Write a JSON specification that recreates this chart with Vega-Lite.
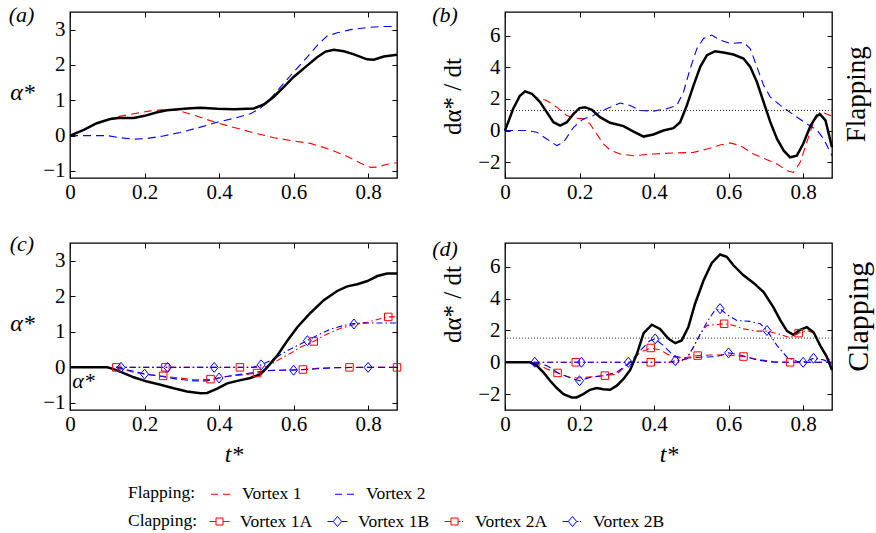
{
"$schema": "https://vega.github.io/schema/vega-lite/v6.json",
"padding": {"left": 8, "top": 3, "right": 5, "bottom": 5},
"config": {
  "font": "Liberation Serif",
  "view": {"stroke": "black", "strokeWidth": 1.3},
  "axis": {"domain": false, "grid": false, "ticks": true, "tickSize": -5, "tickColor": "black", "tickWidth": 1, "labelFont": "Liberation Serif", "labelFontSize": 21, "labelColor": "black", "labelFlush": false, "labelOverlap": false, "labelBound": false, "format": "~g", "titleFont": "Liberation Serif", "titleFontSize": 24, "titleFontWeight": "normal", "titleColor": "black"},
  "axisX": {"labelPadding": 8},
  "axisY": {"labelPadding": 10},
  "legend": {"titleFont": "Liberation Serif", "titleFontSize": 17.5, "titleFontWeight": "normal", "titleColor": "black", "labelFont": "Liberation Serif", "labelFontSize": 17.5, "labelColor": "black"}
},
"datasets": {
  "a_tot": [{"t":0,"v":0},{"t":0.037,"v":0.16},{"t":0.072,"v":0.35},{"t":0.108,"v":0.47},{"t":0.13,"v":0.5},{"t":0.171,"v":0.5},{"t":0.2,"v":0.56},{"t":0.234,"v":0.66},{"t":0.26,"v":0.72},{"t":0.314,"v":0.77},{"t":0.35,"v":0.79},{"t":0.395,"v":0.76},{"t":0.44,"v":0.75},{"t":0.493,"v":0.77},{"t":0.52,"v":0.88},{"t":0.547,"v":1.1},{"t":0.574,"v":1.38},{"t":0.6,"v":1.66},{"t":0.637,"v":1.99},{"t":0.663,"v":2.22},{"t":0.686,"v":2.38},{"t":0.708,"v":2.43},{"t":0.735,"v":2.39},{"t":0.762,"v":2.3},{"t":0.797,"v":2.16},{"t":0.815,"v":2.15},{"t":0.842,"v":2.24},{"t":0.8775,"v":2.29}],
  "a_v": [
    {"s":"Vortex 1","t":0,"v":0},{"s":"Vortex 1","t":0.037,"v":0.16},{"s":"Vortex 1","t":0.072,"v":0.35},{"s":"Vortex 1","t":0.108,"v":0.48},{"s":"Vortex 1","t":0.126,"v":0.53},{"s":"Vortex 1","t":0.171,"v":0.62},{"s":"Vortex 1","t":0.216,"v":0.7},{"s":"Vortex 1","t":0.26,"v":0.74},{"s":"Vortex 1","t":0.287,"v":0.72},{"s":"Vortex 1","t":0.332,"v":0.58},{"s":"Vortex 1","t":0.386,"v":0.39},{"s":"Vortex 1","t":0.44,"v":0.23},{"s":"Vortex 1","t":0.493,"v":0.08},{"s":"Vortex 1","t":0.547,"v":-0.06},{"s":"Vortex 1","t":0.6,"v":-0.15},{"s":"Vortex 1","t":0.645,"v":-0.22},{"s":"Vortex 1","t":0.7,"v":-0.4},{"s":"Vortex 1","t":0.744,"v":-0.59},{"s":"Vortex 1","t":0.78,"v":-0.78},{"s":"Vortex 1","t":0.807,"v":-0.9},{"s":"Vortex 1","t":0.825,"v":-0.89},{"s":"Vortex 1","t":0.851,"v":-0.81},{"s":"Vortex 1","t":0.8775,"v":-0.77},
    {"s":"Vortex 2","t":0,"v":0},{"s":"Vortex 2","t":0.1,"v":0},{"s":"Vortex 2","t":0.135,"v":-0.06},{"s":"Vortex 2","t":0.171,"v":-0.1},{"s":"Vortex 2","t":0.207,"v":-0.08},{"s":"Vortex 2","t":0.25,"v":-0.01},{"s":"Vortex 2","t":0.296,"v":0.09},{"s":"Vortex 2","t":0.35,"v":0.24},{"s":"Vortex 2","t":0.395,"v":0.38},{"s":"Vortex 2","t":0.44,"v":0.49},{"s":"Vortex 2","t":0.484,"v":0.62},{"s":"Vortex 2","t":0.511,"v":0.77},{"s":"Vortex 2","t":0.538,"v":1.05},{"s":"Vortex 2","t":0.565,"v":1.38},{"s":"Vortex 2","t":0.6,"v":1.8},{"s":"Vortex 2","t":0.637,"v":2.23},{"s":"Vortex 2","t":0.663,"v":2.55},{"s":"Vortex 2","t":0.69,"v":2.82},{"s":"Vortex 2","t":0.717,"v":2.91},{"s":"Vortex 2","t":0.753,"v":3.0},{"s":"Vortex 2","t":0.797,"v":3.06},{"s":"Vortex 2","t":0.842,"v":3.09},{"s":"Vortex 2","t":0.8775,"v":3.09}],
  "b_tot": [{"t":0,"v":0},{"t":0.022,"v":1.38},{"t":0.04,"v":2.2},{"t":0.054,"v":2.48},{"t":0.072,"v":2.33},{"t":0.094,"v":1.8},{"t":0.112,"v":1.17},{"t":0.13,"v":0.53},{"t":0.148,"v":0.32},{"t":0.166,"v":0.53},{"t":0.184,"v":1.06},{"t":0.2,"v":1.42},{"t":0.215,"v":1.48},{"t":0.233,"v":1.31},{"t":0.255,"v":0.85},{"t":0.282,"v":0.49},{"t":0.318,"v":0.28},{"t":0.345,"v":-0.06},{"t":0.372,"v":-0.38},{"t":0.398,"v":-0.25},{"t":0.425,"v":0},{"t":0.452,"v":0.15},{"t":0.47,"v":0.53},{"t":0.488,"v":1.59},{"t":0.506,"v":2.86},{"t":0.524,"v":4.03},{"t":0.542,"v":4.77},{"t":0.564,"v":5.02},{"t":0.586,"v":4.94},{"t":0.613,"v":4.81},{"t":0.64,"v":4.56},{"t":0.658,"v":4.03},{"t":0.676,"v":3.07},{"t":0.694,"v":1.8},{"t":0.712,"v":0.53},{"t":0.73,"v":-0.53},{"t":0.748,"v":-1.27},{"t":0.765,"v":-1.69},{"t":0.783,"v":-1.59},{"t":0.8,"v":-0.85},{"t":0.82,"v":0.32},{"t":0.837,"v":0.95},{"t":0.846,"v":1.02},{"t":0.86,"v":0.64},{"t":0.8775,"v":-1.06}],
  "b_v": [
    {"s":"Vortex 1","t":0,"v":0},{"s":"Vortex 1","t":0.022,"v":1.38},{"s":"Vortex 1","t":0.04,"v":2.2},{"s":"Vortex 1","t":0.054,"v":2.48},{"s":"Vortex 1","t":0.072,"v":2.33},{"s":"Vortex 1","t":0.085,"v":2.08},{"s":"Vortex 1","t":0.112,"v":1.9},{"s":"Vortex 1","t":0.139,"v":1.48},{"s":"Vortex 1","t":0.166,"v":0.95},{"s":"Vortex 1","t":0.184,"v":0.8},{"s":"Vortex 1","t":0.21,"v":0.74},{"s":"Vortex 1","t":0.228,"v":0.42},{"s":"Vortex 1","t":0.246,"v":-0.21},{"s":"Vortex 1","t":0.264,"v":-0.85},{"s":"Vortex 1","t":0.282,"v":-1.23},{"s":"Vortex 1","t":0.309,"v":-1.48},{"s":"Vortex 1","t":0.345,"v":-1.59},{"s":"Vortex 1","t":0.398,"v":-1.48},{"s":"Vortex 1","t":0.452,"v":-1.42},{"s":"Vortex 1","t":0.506,"v":-1.38},{"s":"Vortex 1","t":0.542,"v":-1.17},{"s":"Vortex 1","t":0.577,"v":-0.91},{"s":"Vortex 1","t":0.604,"v":-0.78},{"s":"Vortex 1","t":0.631,"v":-0.95},{"s":"Vortex 1","t":0.667,"v":-1.48},{"s":"Vortex 1","t":0.703,"v":-1.84},{"s":"Vortex 1","t":0.73,"v":-2.12},{"s":"Vortex 1","t":0.757,"v":-2.54},{"s":"Vortex 1","t":0.774,"v":-2.65},{"s":"Vortex 1","t":0.792,"v":-2.01},{"s":"Vortex 1","t":0.81,"v":-0.74},{"s":"Vortex 1","t":0.828,"v":0.53},{"s":"Vortex 1","t":0.846,"v":1.21},{"s":"Vortex 1","t":0.8775,"v":0.91},
    {"s":"Vortex 2","t":0,"v":0},{"s":"Vortex 2","t":0.058,"v":0},{"s":"Vortex 2","t":0.085,"v":-0.1},{"s":"Vortex 2","t":0.112,"v":-0.53},{"s":"Vortex 2","t":0.139,"v":-0.95},{"s":"Vortex 2","t":0.157,"v":-0.74},{"s":"Vortex 2","t":0.184,"v":0.21},{"s":"Vortex 2","t":0.21,"v":0.74},{"s":"Vortex 2","t":0.237,"v":0.95},{"s":"Vortex 2","t":0.273,"v":1.38},{"s":"Vortex 2","t":0.309,"v":1.74},{"s":"Vortex 2","t":0.336,"v":1.59},{"s":"Vortex 2","t":0.363,"v":1.27},{"s":"Vortex 2","t":0.398,"v":1.23},{"s":"Vortex 2","t":0.434,"v":1.38},{"s":"Vortex 2","t":0.461,"v":1.59},{"s":"Vortex 2","t":0.479,"v":2.44},{"s":"Vortex 2","t":0.497,"v":3.92},{"s":"Vortex 2","t":0.515,"v":5.19},{"s":"Vortex 2","t":0.533,"v":5.83},{"s":"Vortex 2","t":0.555,"v":6.04},{"s":"Vortex 2","t":0.577,"v":5.72},{"s":"Vortex 2","t":0.604,"v":5.51},{"s":"Vortex 2","t":0.64,"v":5.57},{"s":"Vortex 2","t":0.658,"v":5.19},{"s":"Vortex 2","t":0.676,"v":4.03},{"s":"Vortex 2","t":0.694,"v":2.86},{"s":"Vortex 2","t":0.712,"v":2.12},{"s":"Vortex 2","t":0.739,"v":1.59},{"s":"Vortex 2","t":0.774,"v":1.0},{"s":"Vortex 2","t":0.81,"v":0.42},{"s":"Vortex 2","t":0.837,"v":0.04},{"s":"Vortex 2","t":0.855,"v":-0.53},{"s":"Vortex 2","t":0.8775,"v":-1.59}],
  "c_tot": [{"t":0,"v":0},{"t":0.1,"v":0},{"t":0.117,"v":-0.05},{"t":0.144,"v":-0.16},{"t":0.171,"v":-0.28},{"t":0.207,"v":-0.4},{"t":0.243,"v":-0.49},{"t":0.278,"v":-0.59},{"t":0.314,"v":-0.68},{"t":0.35,"v":-0.73},{"t":0.368,"v":-0.72},{"t":0.395,"v":-0.6},{"t":0.422,"v":-0.45},{"t":0.449,"v":-0.38},{"t":0.484,"v":-0.3},{"t":0.511,"v":-0.19},{"t":0.529,"v":0},{"t":0.556,"v":0.33},{"t":0.583,"v":0.75},{"t":0.61,"v":1.13},{"t":0.645,"v":1.53},{"t":0.681,"v":1.89},{"t":0.717,"v":2.15},{"t":0.744,"v":2.28},{"t":0.771,"v":2.34},{"t":0.798,"v":2.43},{"t":0.825,"v":2.57},{"t":0.851,"v":2.64},{"t":0.8775,"v":2.64}],
  "c_v": [
    {"s":"Vortex 1A","t":0.124,"v":0},{"s":"Vortex 1A","t":0.171,"v":-0.14},{"s":"Vortex 1A","t":0.216,"v":-0.21},{"s":"Vortex 1A","t":0.252,"v":-0.25},{"s":"Vortex 1A","t":0.296,"v":-0.3},{"s":"Vortex 1A","t":0.332,"v":-0.35},{"s":"Vortex 1A","t":0.377,"v":-0.34},{"s":"Vortex 1A","t":0.422,"v":-0.25},{"s":"Vortex 1A","t":0.466,"v":-0.21},{"s":"Vortex 1A","t":0.502,"v":-0.16},{"s":"Vortex 1A","t":0.538,"v":-0.09},{"s":"Vortex 1A","t":0.583,"v":-0.07},{"s":"Vortex 1A","t":0.625,"v":-0.06},{"s":"Vortex 1A","t":0.672,"v":-0.02},{"s":"Vortex 1A","t":0.75,"v":0},{"s":"Vortex 1A","t":0.8775,"v":0},
    {"s":"Vortex 1B","t":0.124,"v":0},{"s":"Vortex 1B","t":0.171,"v":-0.11},{"s":"Vortex 1B","t":0.2,"v":-0.19},{"s":"Vortex 1B","t":0.243,"v":-0.25},{"s":"Vortex 1B","t":0.287,"v":-0.33},{"s":"Vortex 1B","t":0.332,"v":-0.38},{"s":"Vortex 1B","t":0.368,"v":-0.38},{"s":"Vortex 1B","t":0.4,"v":-0.3},{"s":"Vortex 1B","t":0.44,"v":-0.22},{"s":"Vortex 1B","t":0.484,"v":-0.16},{"s":"Vortex 1B","t":0.529,"v":-0.09},{"s":"Vortex 1B","t":0.574,"v":-0.08},{"s":"Vortex 1B","t":0.6,"v":-0.08},{"s":"Vortex 1B","t":0.663,"v":-0.04},{"s":"Vortex 1B","t":0.708,"v":-0.01},{"s":"Vortex 1B","t":0.8,"v":0},{"s":"Vortex 1B","t":0.8775,"v":0},
    {"s":"Vortex 2A","t":0.124,"v":0},{"s":"Vortex 2A","t":0.5,"v":0},{"s":"Vortex 2A","t":0.529,"v":0.02},{"s":"Vortex 2A","t":0.556,"v":0.19},{"s":"Vortex 2A","t":0.592,"v":0.4},{"s":"Vortex 2A","t":0.619,"v":0.57},{"s":"Vortex 2A","t":0.654,"v":0.73},{"s":"Vortex 2A","t":0.69,"v":0.94},{"s":"Vortex 2A","t":0.726,"v":1.1},{"s":"Vortex 2A","t":0.762,"v":1.2},{"s":"Vortex 2A","t":0.798,"v":1.27},{"s":"Vortex 2A","t":0.833,"v":1.37},{"s":"Vortex 2A","t":0.854,"v":1.42},{"s":"Vortex 2A","t":0.8775,"v":1.42},
    {"s":"Vortex 2B","t":0.124,"v":0},{"s":"Vortex 2B","t":0.49,"v":0},{"s":"Vortex 2B","t":0.513,"v":0.07},{"s":"Vortex 2B","t":0.547,"v":0.24},{"s":"Vortex 2B","t":0.583,"v":0.47},{"s":"Vortex 2B","t":0.619,"v":0.66},{"s":"Vortex 2B","t":0.635,"v":0.75},{"s":"Vortex 2B","t":0.663,"v":0.9},{"s":"Vortex 2B","t":0.7,"v":1.08},{"s":"Vortex 2B","t":0.735,"v":1.18},{"s":"Vortex 2B","t":0.76,"v":1.23},{"s":"Vortex 2B","t":0.798,"v":1.25},{"s":"Vortex 2B","t":0.842,"v":1.25},{"s":"Vortex 2B","t":0.8775,"v":1.25}],
  "c_m": [
    {"s":"Vortex 1A","t":0.124,"v":0},{"s":"Vortex 1A","t":0.25,"v":-0.24},{"s":"Vortex 1A","t":0.377,"v":-0.33},{"s":"Vortex 1A","t":0.502,"v":-0.16},{"s":"Vortex 1A","t":0.625,"v":-0.06},{"s":"Vortex 1A","t":0.75,"v":0},{"s":"Vortex 1A","t":0.8775,"v":0},
    {"s":"Vortex 1B","t":0.2,"v":-0.19},{"s":"Vortex 1B","t":0.4,"v":-0.3},{"s":"Vortex 1B","t":0.6,"v":-0.08},{"s":"Vortex 1B","t":0.8,"v":0},
    {"s":"Vortex 2A","t":0.256,"v":0},{"s":"Vortex 2A","t":0.456,"v":0},{"s":"Vortex 2A","t":0.654,"v":0.73},{"s":"Vortex 2A","t":0.854,"v":1.42},
    {"s":"Vortex 2B","t":0.137,"v":0},{"s":"Vortex 2B","t":0.262,"v":0},{"s":"Vortex 2B","t":0.387,"v":0},{"s":"Vortex 2B","t":0.513,"v":0.07},{"s":"Vortex 2B","t":0.637,"v":0.75},{"s":"Vortex 2B","t":0.762,"v":1.22}],
  "d_tot": [{"t":0,"v":0},{"t":0.067,"v":0},{"t":0.085,"v":-0.21},{"t":0.103,"v":-0.63},{"t":0.121,"v":-1.16},{"t":0.139,"v":-1.62},{"t":0.157,"v":-2.0},{"t":0.179,"v":-2.21},{"t":0.192,"v":-2.21},{"t":0.21,"v":-2.0},{"t":0.228,"v":-1.73},{"t":0.246,"v":-1.62},{"t":0.264,"v":-1.7},{"t":0.282,"v":-1.73},{"t":0.3,"v":-1.47},{"t":0.318,"v":-1.05},{"t":0.336,"v":-0.48},{"t":0.354,"v":0.53},{"t":0.372,"v":1.83},{"t":0.394,"v":2.36},{"t":0.416,"v":2.1},{"t":0.439,"v":1.47},{"t":0.457,"v":1.2},{"t":0.474,"v":1.37},{"t":0.492,"v":2.21},{"t":0.51,"v":3.68},{"t":0.533,"v":5.16},{"t":0.555,"v":6.25},{"t":0.577,"v":6.78},{"t":0.595,"v":6.63},{"t":0.613,"v":6.1},{"t":0.64,"v":5.47},{"t":0.667,"v":4.99},{"t":0.694,"v":4.42},{"t":0.72,"v":3.47},{"t":0.739,"v":2.63},{"t":0.757,"v":1.96},{"t":0.774,"v":1.73},{"t":0.792,"v":2.04},{"t":0.81,"v":2.21},{"t":0.828,"v":1.89},{"t":0.846,"v":1.05},{"t":0.864,"v":0.32},{"t":0.8775,"v":-0.48}],
  "d_v": [
    {"s":"Vortex 1A","t":0.077,"v":0},{"s":"Vortex 1A","t":0.112,"v":-0.42},{"s":"Vortex 1A","t":0.141,"v":-0.67},{"s":"Vortex 1A","t":0.175,"v":-0.95},{"s":"Vortex 1A","t":0.2,"v":-0.99},{"s":"Vortex 1A","t":0.237,"v":-0.9},{"s":"Vortex 1A","t":0.268,"v":-0.84},{"s":"Vortex 1A","t":0.3,"v":-0.74},{"s":"Vortex 1A","t":0.331,"v":-0.1},{"s":"Vortex 1A","t":0.363,"v":0.63},{"s":"Vortex 1A","t":0.391,"v":0.9},{"s":"Vortex 1A","t":0.416,"v":0.78},{"s":"Vortex 1A","t":0.443,"v":0.42},{"s":"Vortex 1A","t":0.47,"v":0.25},{"s":"Vortex 1A","t":0.517,"v":0.42},{"s":"Vortex 1A","t":0.55,"v":0.46},{"s":"Vortex 1A","t":0.595,"v":0.46},{"s":"Vortex 1A","t":0.64,"v":0.36},{"s":"Vortex 1A","t":0.685,"v":0.15},{"s":"Vortex 1A","t":0.72,"v":0.04},{"s":"Vortex 1A","t":0.765,"v":0},{"s":"Vortex 1A","t":0.8775,"v":0},
    {"s":"Vortex 1B","t":0.077,"v":0},{"s":"Vortex 1B","t":0.112,"v":-0.21},{"s":"Vortex 1B","t":0.148,"v":-0.74},{"s":"Vortex 1B","t":0.184,"v":-1.05},{"s":"Vortex 1B","t":0.2,"v":-1.16},{"s":"Vortex 1B","t":0.228,"v":-0.95},{"s":"Vortex 1B","t":0.264,"v":-0.84},{"s":"Vortex 1B","t":0.3,"v":-0.63},{"s":"Vortex 1B","t":0.336,"v":0},{"s":"Vortex 1B","t":0.363,"v":0.74},{"s":"Vortex 1B","t":0.389,"v":1.37},{"s":"Vortex 1B","t":0.403,"v":1.47},{"s":"Vortex 1B","t":0.425,"v":1.05},{"s":"Vortex 1B","t":0.452,"v":0.42},{"s":"Vortex 1B","t":0.479,"v":0.25},{"s":"Vortex 1B","t":0.524,"v":0.32},{"s":"Vortex 1B","t":0.568,"v":0.36},{"s":"Vortex 1B","t":0.6,"v":0.59},{"s":"Vortex 1B","t":0.631,"v":0.46},{"s":"Vortex 1B","t":0.676,"v":0.15},{"s":"Vortex 1B","t":0.72,"v":0},{"s":"Vortex 1B","t":0.8775,"v":0},
    {"s":"Vortex 2A","t":0.077,"v":0},{"s":"Vortex 2A","t":0.47,"v":0},{"s":"Vortex 2A","t":0.488,"v":0.32},{"s":"Vortex 2A","t":0.506,"v":0.95},{"s":"Vortex 2A","t":0.524,"v":1.79},{"s":"Vortex 2A","t":0.542,"v":2.32},{"s":"Vortex 2A","t":0.588,"v":2.42},{"s":"Vortex 2A","t":0.613,"v":2.32},{"s":"Vortex 2A","t":0.64,"v":2.1},{"s":"Vortex 2A","t":0.676,"v":1.96},{"s":"Vortex 2A","t":0.703,"v":1.96},{"s":"Vortex 2A","t":0.739,"v":1.75},{"s":"Vortex 2A","t":0.765,"v":1.54},{"s":"Vortex 2A","t":0.788,"v":1.83},{"s":"Vortex 2A","t":0.81,"v":2.0},{"s":"Vortex 2A","t":0.828,"v":1.83},{"s":"Vortex 2A","t":0.85,"v":0.95},{"s":"Vortex 2A","t":0.8775,"v":-0.1},
    {"s":"Vortex 2B","t":0.077,"v":0},{"s":"Vortex 2B","t":0.44,"v":0},{"s":"Vortex 2B","t":0.457,"v":0.1},{"s":"Vortex 2B","t":0.488,"v":0.21},{"s":"Vortex 2B","t":0.515,"v":1.37},{"s":"Vortex 2B","t":0.542,"v":2.53},{"s":"Vortex 2B","t":0.56,"v":3.16},{"s":"Vortex 2B","t":0.577,"v":3.37},{"s":"Vortex 2B","t":0.595,"v":3.01},{"s":"Vortex 2B","t":0.622,"v":2.63},{"s":"Vortex 2B","t":0.658,"v":2.57},{"s":"Vortex 2B","t":0.685,"v":2.42},{"s":"Vortex 2B","t":0.703,"v":2.0},{"s":"Vortex 2B","t":0.73,"v":1.05},{"s":"Vortex 2B","t":0.757,"v":0.32},{"s":"Vortex 2B","t":0.783,"v":0.06},{"s":"Vortex 2B","t":0.8,"v":0},{"s":"Vortex 2B","t":0.828,"v":0.25},{"s":"Vortex 2B","t":0.855,"v":0.15},{"s":"Vortex 2B","t":0.8775,"v":-0.1}],
  "d_m": [
    {"s":"Vortex 1A","t":0.141,"v":-0.67},{"s":"Vortex 1A","t":0.268,"v":-0.84},{"s":"Vortex 1A","t":0.391,"v":0.9},{"s":"Vortex 1A","t":0.517,"v":0.42},{"s":"Vortex 1A","t":0.64,"v":0.36},{"s":"Vortex 1A","t":0.765,"v":0},
    {"s":"Vortex 1B","t":0.2,"v":-1.16},{"s":"Vortex 1B","t":0.403,"v":1.47},{"s":"Vortex 1B","t":0.6,"v":0.59},{"s":"Vortex 1B","t":0.8,"v":0},
    {"s":"Vortex 2A","t":0.19,"v":0},{"s":"Vortex 2A","t":0.391,"v":0},{"s":"Vortex 2A","t":0.588,"v":2.42},{"s":"Vortex 2A","t":0.788,"v":1.83},
    {"s":"Vortex 2B","t":0.08,"v":0},{"s":"Vortex 2B","t":0.205,"v":0},{"s":"Vortex 2B","t":0.331,"v":0},{"s":"Vortex 2B","t":0.457,"v":0.1},{"s":"Vortex 2B","t":0.577,"v":3.37},{"s":"Vortex 2B","t":0.703,"v":2.0},{"s":"Vortex 2B","t":0.828,"v":0.25}]
},
"bounds": "flush",
"columns": 2,
"spacing": {"row": 65, "column": 108},
"concat": [
  {"width": 327, "height": 166,
   "resolve": {"axis": {"x": "independent", "y": "independent"}},
   "layer": [
    {"data": {"name": "a_v"}, "mark": {"type": "line", "strokeDash": [8, 5], "strokeWidth": 1.1},
     "encoding": {
      "x": {"field": "t", "type": "quantitative", "scale": {"domain": [0, 0.8775], "nice": false, "zero": false}, "axis": {"orient": "bottom", "values": [0, 0.2, 0.4, 0.6, 0.8], "title": null}},
      "y": {"field": "v", "type": "quantitative", "scale": {"domain": [-1.2, 3.5], "nice": false, "zero": false}, "axis": {"orient": "left", "values": [-1, 0, 1, 2, 3], "title": "α*", "titleAngle": 0, "titleFontStyle": "italic", "titleX": -48, "titleY": 80, "titleAlign": "center", "titleBaseline": "middle"}},
      "stroke": {"field": "s", "type": "nominal", "scale": {"domain": ["Vortex 1", "Vortex 2"], "range": ["#ff0000", "#0000ff"]},
        "legend": {"title": "Flapping:", "orient": "none", "legendX": 58, "legendY": 471, "direction": "horizontal", "columns": 2, "titleOrient": "left", "titlePadding": 14, "labelOffset": 10, "columnPadding": 30, "symbolType": "stroke", "symbolDash": [7, 5], "symbolSize": 400, "symbolStrokeWidth": 1.2}}
     }},
    {"data": {"name": "a_tot"}, "mark": {"type": "line", "color": "black", "strokeWidth": 2.5},
     "encoding": {
      "x": {"field": "t", "type": "quantitative", "axis": {"orient": "top", "values": [0, 0.2, 0.4, 0.6, 0.8], "labels": false, "title": null}},
      "y": {"field": "v", "type": "quantitative", "axis": {"orient": "right", "values": [-1, 0, 1, 2, 3], "labels": false, "title": null}}
     }},
    {"data": {"values": [{"label": "(a)"}]}, "mark": {"type": "text", "fontSize": 22, "fontStyle": "italic", "color": "black"},
     "encoding": {"x": {"datum": -0.13, "axis": null}, "y": {"datum": 3.41, "axis": null}, "text": {"field": "label"}}}
   ]},
  {"width": 327, "height": 166,
   "resolve": {"axis": {"x": "independent", "y": "independent"}},
   "layer": [
    {"data": {"name": "b_v"}, "mark": {"type": "line", "strokeDash": [8, 5], "strokeWidth": 1.1},
     "encoding": {
      "x": {"field": "t", "type": "quantitative", "scale": {"domain": [0, 0.8775], "nice": false, "zero": false}, "axis": {"orient": "bottom", "values": [0, 0.2, 0.4, 0.6, 0.8], "title": null}},
      "y": {"field": "v", "type": "quantitative", "scale": {"domain": [-3, 7.5], "nice": false, "zero": false}, "axis": {"orient": "left", "values": [-2, 0, 2, 4, 6], "title": "dα* / dt", "titleFontSize": 25, "titleAngle": 270, "titleX": -53, "titleY": 84, "titleAlign": "center", "titleBaseline": "middle"}},
      "stroke": {"field": "s", "type": "nominal", "scale": {"domain": ["Vortex 1", "Vortex 2"], "range": ["#ff0000", "#0000ff"]},
        "legend": {"title": "Flapping:", "orient": "none", "legendX": 58, "legendY": 471, "direction": "horizontal", "columns": 2, "titleOrient": "left", "titlePadding": 14, "labelOffset": 10, "columnPadding": 30, "symbolType": "stroke", "symbolDash": [7, 5], "symbolSize": 400, "symbolStrokeWidth": 1.2}}
     }},
    {"data": {"values": [{"v": 1.27}]}, "mark": {"type": "rule", "color": "#333333", "strokeDash": [1, 2], "strokeWidth": 1},
     "encoding": {"y": {"field": "v", "type": "quantitative", "axis": null}}},
    {"data": {"name": "b_tot"}, "mark": {"type": "line", "color": "black", "strokeWidth": 2.5},
     "encoding": {
      "x": {"field": "t", "type": "quantitative", "axis": {"orient": "top", "values": [0, 0.2, 0.4, 0.6, 0.8], "labels": false, "title": null}},
      "y": {"field": "v", "type": "quantitative", "axis": {"orient": "right", "values": [-2, 0, 2, 4, 6], "labels": false, "title": null}}
     }},
    {"data": {"values": [{"label": "(b)"}]}, "mark": {"type": "text", "fontSize": 22, "fontStyle": "italic", "color": "black"},
     "encoding": {"x": {"datum": -0.161, "axis": null}, "y": {"datum": 7.32, "axis": null}, "text": {"field": "label"}}},
    {"data": {"values": [{"label": "Flapping"}]}, "mark": {"type": "text", "fontSize": 27, "angle": 270, "align": "center", "baseline": "middle", "color": "black"},
     "encoding": {"x": {"datum": 0.945, "axis": null}, "y": {"datum": 2.3, "axis": null}, "text": {"field": "label"}}}
   ]},
  {"width": 327, "height": 167,
   "resolve": {"axis": {"x": "independent", "y": "independent"}},
   "layer": [
    {"data": {"name": "c_v"}, "transform": [{"filter": {"field": "s", "oneOf": ["Vortex 1A", "Vortex 1B"]}}], "mark": {"type": "line", "strokeWidth": 1.1, "strokeDash": [7, 4]},
     "encoding": {
      "x": {"field": "t", "type": "quantitative", "scale": {"domain": [0, 0.8775], "nice": false, "zero": false}, "axis": {"orient": "bottom", "values": [0, 0.2, 0.4, 0.6, 0.8], "title": "t*", "titleFontStyle": "italic", "titlePadding": 8}},
      "y": {"field": "v", "type": "quantitative", "scale": {"domain": [-1.2, 3.5], "nice": false, "zero": false}, "axis": {"orient": "left", "values": [-1, 0, 1, 2, 3], "title": "α*", "titleAngle": 0, "titleFontStyle": "italic", "titleX": -48, "titleY": 80, "titleAlign": "center", "titleBaseline": "middle"}},
      "color": {"field": "s", "type": "nominal", "scale": {"domain": ["Vortex 1A", "Vortex 1B", "Vortex 2A", "Vortex 2B"], "range": ["#ff0000", "#0000ff", "#ff0000", "#0000ff"]},
        "legend": {"title": "Clapping:", "orient": "none", "legendX": 58, "legendY": 499, "direction": "horizontal", "columns": 4, "titleOrient": "left", "titlePadding": 11, "labelOffset": 10, "columnPadding": 12, "symbolSize": 400, "symbolStrokeWidth": 1, "symbolType": "M-1,0H-0.35M0.35,0H1M-0.35,-0.35H0.35V0.35H-0.35Z",
          "encode": {"symbols": {"update": {"shape": {"signal": "datum.value === 'Vortex 1A' ? 'M-1,0H-0.35M0.35,0H1M-0.35,-0.35H0.35V0.35H-0.35Z' : datum.value === 'Vortex 2A' ? 'M-1,0H-0.35M0.35,0H0.6M0.75,0H0.85M-0.35,-0.35H0.35V0.35H-0.35Z' : datum.value === 'Vortex 1B' ? 'M-1,0H-0.42M0.42,0H1M-0.42,0L0,-0.5L0.42,0L0,0.5Z' : 'M-1,0H-0.42M0.42,0H0.6M0.75,0H0.85M-0.42,0L0,-0.5L0.42,0L0,0.5Z'"}, "fill": {"value": "transparent"}}}}}}
     }},
    {"data": {"name": "c_v"}, "transform": [{"filter": {"field": "s", "oneOf": ["Vortex 2A", "Vortex 2B"]}}], "mark": {"type": "line", "strokeWidth": 1.1, "strokeDash": [6, 3, 1.5, 3]},
     "encoding": {
      "x": {"field": "t", "type": "quantitative", "axis": null},
      "y": {"field": "v", "type": "quantitative", "axis": null},
      "color": {"field": "s", "type": "nominal"}
     }},
    {"data": {"name": "c_tot"}, "mark": {"type": "line", "color": "black", "strokeWidth": 2.5},
     "encoding": {
      "x": {"field": "t", "type": "quantitative", "axis": {"orient": "top", "values": [0, 0.2, 0.4, 0.6, 0.8], "labels": false, "title": null}},
      "y": {"field": "v", "type": "quantitative", "axis": {"orient": "right", "values": [-1, 0, 1, 2, 3], "labels": false, "title": null}}
     }},
    {"data": {"name": "c_m"}, "transform": [{"filter": {"field": "s", "oneOf": ["Vortex 1A", "Vortex 2A"]}}], "mark": {"type": "point", "filled": false, "size": 100, "strokeWidth": 1, "opacity": 1, "shape": "M-0.75,-0.75H0.75V0.75H-0.75Z"},
     "encoding": {
      "x": {"field": "t", "type": "quantitative", "axis": null},
      "y": {"field": "v", "type": "quantitative", "axis": null},
      "color": {"field": "s", "type": "nominal"}
     }},
    {"data": {"name": "c_m"}, "transform": [{"filter": {"field": "s", "oneOf": ["Vortex 1B", "Vortex 2B"]}}], "mark": {"type": "point", "filled": false, "size": 100, "strokeWidth": 1, "opacity": 1, "shape": "M-0.8,0L0,-1L0.8,0L0,1Z"},
     "encoding": {
      "x": {"field": "t", "type": "quantitative", "axis": null},
      "y": {"field": "v", "type": "quantitative", "axis": null},
      "color": {"field": "s", "type": "nominal"}
     }},
    {"data": {"values": [{"label": "(c)"}]}, "mark": {"type": "text", "fontSize": 22, "fontStyle": "italic", "color": "black"},
     "encoding": {"x": {"datum": -0.129, "axis": null}, "y": {"datum": 3.46, "axis": null}, "text": {"field": "label"}}},
    {"data": {"values": [{"label": "α*"}]}, "mark": {"type": "text", "fontSize": 22, "fontStyle": "italic", "color": "black"},
     "encoding": {"x": {"datum": 0.036, "axis": null}, "y": {"datum": -0.37, "axis": null}, "text": {"field": "label"}}}
   ]},
  {"width": 327, "height": 167,
   "resolve": {"axis": {"x": "independent", "y": "independent"}},
   "layer": [
    {"data": {"name": "d_v"}, "transform": [{"filter": {"field": "s", "oneOf": ["Vortex 1A", "Vortex 1B"]}}], "mark": {"type": "line", "strokeWidth": 1.1, "strokeDash": [7, 4]},
     "encoding": {
      "x": {"field": "t", "type": "quantitative", "scale": {"domain": [0, 0.8775], "nice": false, "zero": false}, "axis": {"orient": "bottom", "values": [0, 0.2, 0.4, 0.6, 0.8], "title": "t*", "titleFontStyle": "italic", "titlePadding": 8}},
      "y": {"field": "v", "type": "quantitative", "scale": {"domain": [-3, 7.5], "nice": false, "zero": false}, "axis": {"orient": "left", "values": [-2, 0, 2, 4, 6], "title": "dα* / dt", "titleFontSize": 25, "titleAngle": 270, "titleX": -53, "titleY": 61, "titleAlign": "center", "titleBaseline": "middle"}},
      "color": {"field": "s", "type": "nominal"}
     }},
    {"data": {"name": "d_v"}, "transform": [{"filter": {"field": "s", "oneOf": ["Vortex 2A", "Vortex 2B"]}}], "mark": {"type": "line", "strokeWidth": 1.1, "strokeDash": [6, 3, 1.5, 3]},
     "encoding": {
      "x": {"field": "t", "type": "quantitative", "axis": null},
      "y": {"field": "v", "type": "quantitative", "axis": null},
      "color": {"field": "s", "type": "nominal"}
     }},
    {"data": {"values": [{"v": 1.52}]}, "mark": {"type": "rule", "color": "#333333", "strokeDash": [1, 2], "strokeWidth": 1},
     "encoding": {"y": {"field": "v", "type": "quantitative", "axis": null}}},
    {"data": {"name": "d_tot"}, "mark": {"type": "line", "color": "black", "strokeWidth": 2.5},
     "encoding": {
      "x": {"field": "t", "type": "quantitative", "axis": {"orient": "top", "values": [0, 0.2, 0.4, 0.6, 0.8], "labels": false, "title": null}},
      "y": {"field": "v", "type": "quantitative", "axis": {"orient": "right", "values": [-2, 0, 2, 4, 6], "labels": false, "title": null}}
     }},
    {"data": {"name": "d_m"}, "transform": [{"filter": {"field": "s", "oneOf": ["Vortex 1A", "Vortex 2A"]}}], "mark": {"type": "point", "filled": false, "size": 100, "strokeWidth": 1, "opacity": 1, "shape": "M-0.75,-0.75H0.75V0.75H-0.75Z"},
     "encoding": {
      "x": {"field": "t", "type": "quantitative", "axis": null},
      "y": {"field": "v", "type": "quantitative", "axis": null},
      "color": {"field": "s", "type": "nominal"}
     }},
    {"data": {"name": "d_m"}, "transform": [{"filter": {"field": "s", "oneOf": ["Vortex 1B", "Vortex 2B"]}}], "mark": {"type": "point", "filled": false, "size": 100, "strokeWidth": 1, "opacity": 1, "shape": "M-0.8,0L0,-1L0.8,0L0,1Z"},
     "encoding": {
      "x": {"field": "t", "type": "quantitative", "axis": null},
      "y": {"field": "v", "type": "quantitative", "axis": null},
      "color": {"field": "s", "type": "nominal"}
     }},
    {"data": {"values": [{"label": "(d)"}]}, "mark": {"type": "text", "fontSize": 22, "fontStyle": "italic", "color": "black"},
     "encoding": {"x": {"datum": -0.161, "axis": null}, "y": {"datum": 7.13, "axis": null}, "text": {"field": "label"}}},
    {"data": {"values": [{"label": "Clapping"}]}, "mark": {"type": "text", "fontSize": 30, "angle": 270, "align": "center", "baseline": "middle", "color": "black"},
     "encoding": {"x": {"datum": 0.95, "axis": null}, "y": {"datum": 2.86, "axis": null}, "text": {"field": "label"}}}
   ]}
]
}
